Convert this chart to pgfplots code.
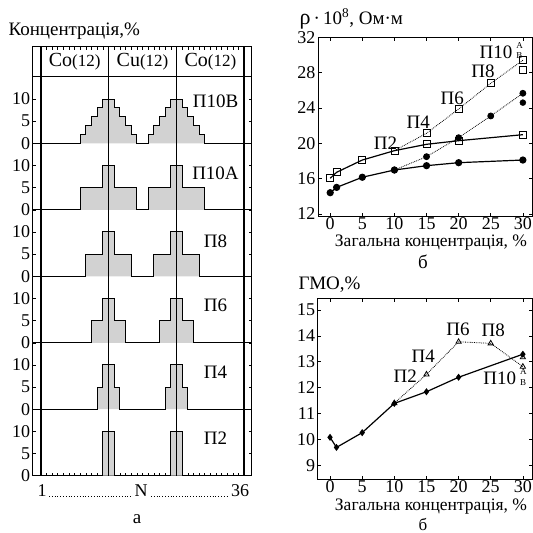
\documentclass[border=0pt]{standalone}
\usepackage{fontspec}
\setmainfont{Liberation Serif}
\usepackage{pgfplots}
\pgfplotsset{compat=1.18}
\newcommand{\fs}[1]{\fontsize{#1}{#1}\selectfont}
\begin{document}
\begin{tikzpicture}[x=1pt,y=1pt]
\path[use as bounding box] (0,0) rectangle (533,-533);
% ---------------- left panel ----------------
\begin{axis}[
  at={(32.7pt,-475.7pt)}, anchor=south west,
  scale only axis, width=219pt, height=429pt,
  xmin=-1.41, xmax=37.3, ymin=0, ymax=96.8,
  xtick={1,...,35}, xticklabels={},
  ytick={0,5,...,85},
  yticklabels={0,5,10,0,5,10,0,5,10,0,5,10,0,5,10,0,5,10},
  tick align=inside, major tick length=3pt, tick pos=both,
  axis line style={line width=0.6pt},
  tick style={line width=0.5pt, black},
  ticklabel style={font=\fs{18}},
  yticklabel style={xshift=1pt},
  /pgf/number format/assume math mode=true,
  clip=false,
]
% П2 (baseline 0)
\addplot[draw=black, line width=1pt, fill=gray!35]
  coordinates {(-1.41,0) (11,0) (11,10) (13,10) (13,0) (23,0) (23,10) (25,10) (25,0) (37.3,0)};
% П4 (baseline 15)
\addplot[draw=black, line width=1pt, fill=gray!35, y filter/.expression={y+15}]
  coordinates {(-1.41,0) (10,0) (10,5) (11,5) (11,10) (13,10) (13,5) (14,5) (14,0)
               (22,0) (22,5) (23,5) (23,10) (25,10) (25,5) (26,5) (26,0) (37.3,0)};
% П6 (baseline 30)
\addplot[draw=black, line width=1pt, fill=gray!35, y filter/.expression={y+30}]
  coordinates {(-1.41,0) (9,0) (9,5) (11,5) (11,10) (13,10) (13,5) (15,5) (15,0)
               (21,0) (21,5) (23,5) (23,10) (25,10) (25,5) (27,5) (27,0) (37.3,0)};
% П8 (baseline 45)
\addplot[draw=black, line width=1pt, fill=gray!35, y filter/.expression={y+45}]
  coordinates {(-1.41,0) (8,0) (8,5) (11,5) (11,10) (13,10) (13,5) (16,5) (16,0)
               (20,0) (20,5) (23,5) (23,10) (25,10) (25,5) (28,5) (28,0) (37.3,0)};
% П10А (baseline 60)
\addplot[draw=black, line width=1pt, fill=gray!35, y filter/.expression={y+60}]
  coordinates {(-1.41,0) (7,0) (7,5) (11,5) (11,10) (13,10) (13,5) (17,5) (17,0)
               (19,0) (19,5) (23,5) (23,10) (25,10) (25,5) (29,5) (29,0) (37.3,0)};
% П10В (baseline 75)
\addplot[draw=black, line width=1pt, fill=gray!35, y filter/.expression={y+75}]
  coordinates {(-1.41,0) (7,0) (7,2) (8,2) (8,4) (9,4) (9,6) (10,6) (10,8) (11,8) (11,10)
               (13,10) (13,8) (14,8) (14,6) (15,6) (15,4) (16,4) (16,2) (17,2) (17,0)
               (19,0) (19,2) (20,2) (20,4) (21,4) (21,6) (22,6) (22,8) (23,8) (23,10)
               (25,10) (25,8) (26,8) (26,6) (27,6) (27,4) (28,4) (28,2) (29,2) (29,0) (37.3,0)};
\draw[line width=1.8pt] (axis cs:0,0) -- (axis cs:0,96.8);
\draw[line width=1.8pt] (axis cs:36,0) -- (axis cs:36,96.8);
\draw[line width=1.1pt] (axis cs:12,0) -- (axis cs:12,96.8);
\draw[line width=1.1pt] (axis cs:24,0) -- (axis cs:24,96.8);
\draw[line width=1pt] (axis cs:-1.41,90.1) -- (axis cs:37.3,90.1);
\node at (axis cs:6,93.4) {\fs{20}Co\fs{17}(12)};
\node at (axis cs:18,93.4) {\fs{20}Cu\fs{17}(12)};
\node at (axis cs:30,93.4) {\fs{20}Co\fs{17}(12)};
\node[font=\fs{19}] at (axis cs:30.9,84.4) {П10В};
\node[font=\fs{19}] at (axis cs:30.9,68.2) {П10А};
\node[font=\fs{19}] at (axis cs:30.9,53.0) {П8};
\node[font=\fs{19}] at (axis cs:30.9,38.5) {П6};
\node[font=\fs{19}] at (axis cs:30.9,23.4) {П4};
\node[font=\fs{19}] at (axis cs:30.9,8.5) {П2};
\end{axis}
\node[anchor=west, font=\fs{19}] at (5,-31) {Концентрація,\%};
\node[font=\fs{18}] at (42,-491) {1};
\node[font=\fs{18}] at (141,-491) {N};
\node[font=\fs{18}] at (240,-491) {36};
\draw[line width=0.8pt, dotted] (49,-496) -- (132,-496);
\draw[line width=0.8pt, dotted] (151,-496) -- (227,-496);
\node[font=\fs{19}] at (137,-519) {а};
% ---------------- right top ----------------
\begin{axis}[
  at={(318pt,-216pt)}, anchor=south west,
  scale only axis, width=214.5pt, height=178.7pt,
  xmin=-1.9, xmax=31.5, ymin=11.76, ymax=32,
  xtick={0,5,...,30}, ytick={12,16,...,32},
  tick align=inside, major tick length=3.5pt, tick pos=both,
  axis line style={line width=0.8pt},
  tick style={line width=0.6pt, black},
  ticklabel style={font=\fs{18}},
  xticklabel style={yshift=2pt},
  yticklabel style={xshift=1pt},
  /pgf/number format/assume math mode=true,
  clip=false,
]
\addplot[black, line width=1.2pt, mark=square, mark size=3.5pt, mark options={fill=white, line width=0.8pt}]
  coordinates {(0,16.03)(1,16.71)(5,18.1)(10,19.16)(15,19.88)(20,20.29)(30,20.97)};
\addplot[black, line width=1.2pt, mark=*, mark size=3pt]
  coordinates {(0,14.4)(1,15.0)(5,16.15)(10,16.97)(15,17.46)(20,17.8)(30,18.1)};
\addplot[black, densely dotted, line width=0.8pt, mark=square, mark size=3.5pt, mark options={solid, fill=white, line width=0.8pt}]
  coordinates {(10,19.16)(15,21.13)(20,23.88)(25,26.79)(30,29.4)};
\addplot[black, only marks, mark=square, mark size=3.5pt, mark options={solid, fill=white, line width=0.8pt}]
  coordinates {(30,28.33)};
\addplot[black, densely dotted, line width=0.8pt, mark=*, mark size=3pt, mark options={solid}]
  coordinates {(10,16.97)(15,18.48)(20,20.63)(25,23.09)(30,25.66)};
\addplot[black, only marks, mark=*, mark size=3pt]
  coordinates {(30,24.6)};
\node[font=\fs{19}] at (axis cs:8.6,20.0) {П2};
\node[font=\fs{19}] at (axis cs:13.7,22.4) {П4};
\node[font=\fs{19}] at (axis cs:19.0,25.1) {П6};
\node[font=\fs{19}] at (axis cs:23.8,28.1) {П8};
\node[font=\fs{19}, anchor=east] at (axis cs:28.9,30.3) {П10};
\node[font=\fs{9}, anchor=west, inner sep=0pt] at (axis cs:28.95,31.05) {А};
\node[font=\fs{9}, anchor=west, inner sep=0pt] at (axis cs:28.95,29.95) {В};
\end{axis}
\node[anchor=west, font=\fs{19}] at (296,-19) {{\fs{22}ρ}\,·\,10\textsuperscript{8}, Ом·м};
\node[font=\fs{17.5}] at (431,-243) {Загальна концентрація, \%};
\node[font=\fs{19}] at (423,-262) {б};
% ---------------- right bottom ----------------
\begin{axis}[
  at={(317.7pt,-479pt)}, anchor=south west,
  scale only axis, width=214.8pt, height=180.7pt,
  xmin=-1.92, xmax=31.5, ymin=8.47, ymax=15.45,
  xtick={0,5,...,30}, ytick={9,...,15},
  tick align=inside, major tick length=3.5pt, tick pos=both,
  axis line style={line width=0.8pt},
  tick style={line width=0.6pt, black},
  ticklabel style={font=\fs{18}},
  xticklabel style={yshift=2pt},
  yticklabel style={xshift=1pt},
  /pgf/number format/assume math mode=true,
  clip=false,
]
\addplot[black, line width=1.2pt, mark=diamond*, mark size=2.6pt]
  coordinates {(0,10.08)(1,9.69)(5,10.26)(10,11.39)(15,11.84)(20,12.40)(30,13.29)};
\addplot[black, densely dotted, line width=0.8pt, mark=triangle, mark size=3pt, mark options={solid, fill=white, line width=0.8pt}]
  coordinates {(10,11.4)(15,12.51)(20,13.77)(25,13.71)(30,12.81)};
\addplot[black, only marks, mark=triangle, mark size=3pt, mark options={solid, fill=white, line width=0.8pt}]
  coordinates {(30,13.17)};
\node[font=\fs{19}] at (axis cs:11.7,12.43) {П2};
\node[font=\fs{19}] at (axis cs:14.5,13.2) {П4};
\node[font=\fs{19}] at (axis cs:19.9,14.24) {П6};
\node[font=\fs{19}] at (axis cs:25.4,14.21) {П8};
\node[font=\fs{19}, anchor=east] at (axis cs:29.5,12.35) {П10};
\node[font=\fs{9}, anchor=west, inner sep=0pt] at (axis cs:29.55,12.62) {А};
\node[font=\fs{9}, anchor=west, inner sep=0pt] at (axis cs:29.55,12.2) {В};
\end{axis}
\node[anchor=west, font=\fs{19}] at (295,-285) {ГМО,\%};
\node[font=\fs{17.5}, inner sep=1pt] at (431,-506.5) {Загальна концентрація, \%};
\node[font=\fs{17}, inner sep=0.5pt] at (423,-524) {б};
\end{tikzpicture}
\end{document}
